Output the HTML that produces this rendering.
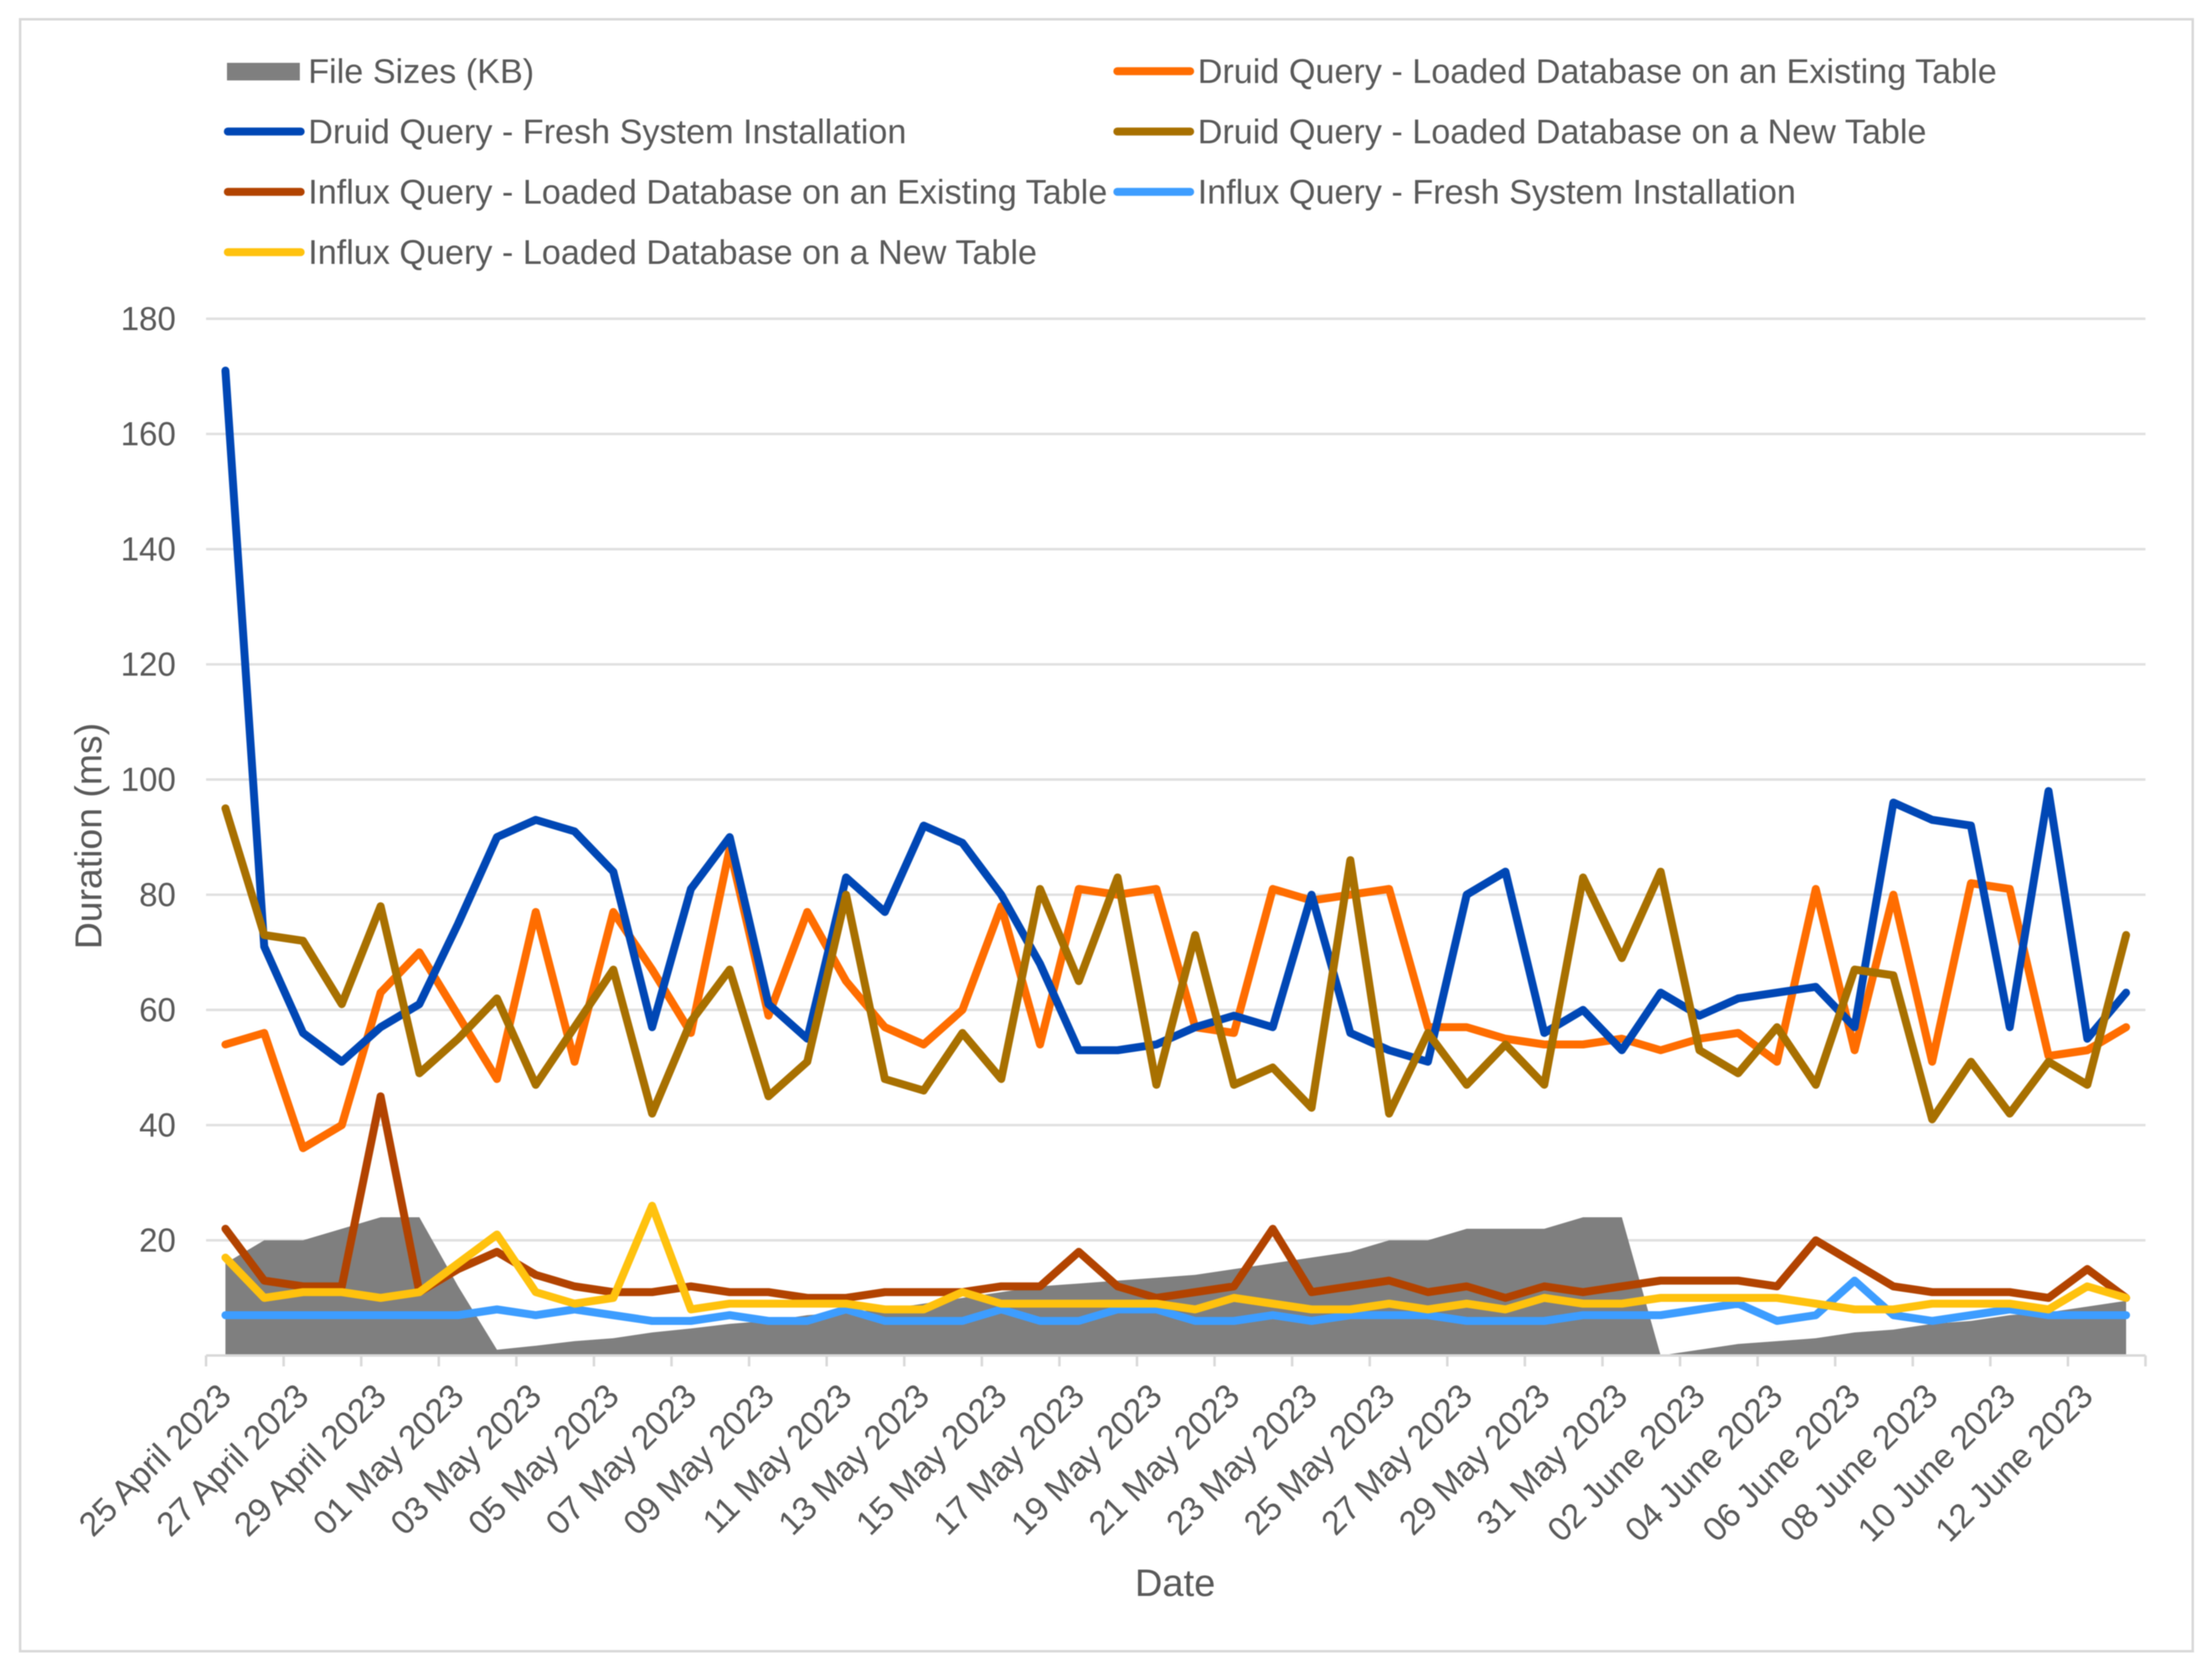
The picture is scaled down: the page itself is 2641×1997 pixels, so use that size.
<!DOCTYPE html>
<html lang="en">
<head>
<meta charset="utf-8">
<title>Query duration by date</title>
<style>
  html, body { margin: 0; padding: 0; background: #ffffff; }
  svg { display: block; font-family: "Liberation Sans", Arial, sans-serif; fill: #595959; filter: blur(0.6px); }
</style>
</head>
<body>
<svg id="chart" xmlns="http://www.w3.org/2000/svg" width="2641" height="1997" viewBox="0 0 2641 1997">
  <rect x="24" y="23" width="2594" height="1948" fill="#ffffff" stroke="#d9d9d9" stroke-width="3"/>
  <g id="grid"></g>
  <g id="area"></g>
  <g id="axes"></g>
  <g id="lines"></g>
  <g id="ylabels" font-size="39.5" text-anchor="end"></g>
  <g id="xlabels" font-size="40.5" text-anchor="end"></g>

  <text font-size="44.6" text-anchor="middle" transform="translate(121 998) rotate(-90)">Duration (ms)</text>
  <text font-size="45.5" text-anchor="middle" x="1403" y="1905">Date</text>

  <g font-size="40.8">
    <g>
      <rect x="271" y="75" width="87" height="21" fill="#7f7f7f"/>
      <text x="368" y="99">File Sizes (KB)</text>
    </g>
    <g>
      <line x1="272" x2="359" y1="157" y2="157" stroke="#0047b5" stroke-width="9.5" stroke-linecap="round"/>
      <text x="368" y="171">Druid Query - Fresh System Installation</text>
    </g>
    <g>
      <line x1="272" x2="359" y1="229" y2="229" stroke="#b24300" stroke-width="9.5" stroke-linecap="round"/>
      <text x="368" y="243">Influx Query - Loaded Database on an Existing Table</text>
    </g>
    <g>
      <line x1="272" x2="359" y1="301" y2="301" stroke="#ffc20e" stroke-width="9.5" stroke-linecap="round"/>
      <text x="368" y="315">Influx Query - Loaded Database on a New Table</text>
    </g>
    <g>
      <line x1="1334" x2="1421" y1="85" y2="85" stroke="#ff6d00" stroke-width="9.5" stroke-linecap="round"/>
      <text x="1430" y="99">Druid Query - Loaded Database on an Existing Table</text>
    </g>
    <g>
      <line x1="1334" x2="1421" y1="157" y2="157" stroke="#a87000" stroke-width="9.5" stroke-linecap="round"/>
      <text x="1430" y="171">Druid Query - Loaded Database on a New Table</text>
    </g>
    <g>
      <line x1="1334" x2="1421" y1="229" y2="229" stroke="#3d9dff" stroke-width="9.5" stroke-linecap="round"/>
      <text x="1430" y="243">Influx Query - Fresh System Installation</text>
    </g>
  </g>
</svg>
<script>
const dateTickLabels = ["25 April 2023","27 April 2023","29 April 2023","01 May 2023","03 May 2023","05 May 2023","07 May 2023","09 May 2023","11 May 2023","13 May 2023","15 May 2023","17 May 2023","19 May 2023","21 May 2023","23 May 2023","25 May 2023","27 May 2023","29 May 2023","31 May 2023","02 June 2023","04 June 2023","06 June 2023","08 June 2023","10 June 2023","12 June 2023"];
const durationTickLabels = [20,40,60,80,100,120,140,160,180];
const fileSizes = [16,20,20,22,24,24,12,1,1.7,2.5,3,4,4.7,5.5,6,7,7.5,8,9,10,11,12,12.5,13,13.5,14,15,16,17,18,20,20,22,22,22,24,24,0,1,2,2.5,3,4,4.5,5.5,6,7,7.5,8.5,9.5];
const druidFresh = [171,71,56,51,57,61,75,90,93,91,84,57,81,90,61,55,83,77,92,89,80,68,53,53,54,57,59,57,80,56,53,51,80,84,56,60,53,63,59,62,63,64,57,96,93,92,57,98,55,63];
const druidExisting = [54,56,36,40,63,70,59,48,77,51,77,67,56,88,59,77,65,57,54,60,78,54,81,80,81,57,56,81,79,80,81,57,57,55,54,54,55,53,55,56,51,81,53,80,51,82,81,52,53,57];
const druidNew = [95,73,72,61,78,49,55,62,47,57,67,42,58,67,45,51,80,48,46,56,48,81,65,83,47,73,47,50,43,86,42,56,47,54,47,83,69,84,53,49,57,47,67,66,41,51,42,51,47,73];
const influxExisting = [22,13,12,12,45,11,15,18,14,12,11,11,12,11,11,10,10,11,11,11,12,12,18,12,10,11,12,22,11,12,13,11,12,10,12,11,12,13,13,13,12,20,16,12,11,11,11,10,15,10];
const influxFresh = [7,7,7,7,7,7,7,8,7,8,7,6,6,7,6,6,8,6,6,6,8,6,6,8,8,6,6,7,6,7,7,7,6,6,6,7,7,7,8,9,6,7,13,7,6,7,8,7,7,7];
const influxNew = [17,10,11,11,10,11,16,21,11,9,10,26,8,9,9,9,9,8,8,11,9,9,9,9,9,8,10,9,8,8,9,8,9,8,10,9,9,10,10,10,10,9,8,8,9,9,9,8,12,10];

const NS = "http://www.w3.org/2000/svg";
const plot = { left: 246, right: 2561.6, zero: 1618, unit: 6.875 };
const pointCount = druidFresh.length;
const band = (plot.right - plot.left) / pointCount;
function xScale(i) { return plot.left + band * (i + 0.5); }
function yScale(v) { return plot.zero - plot.unit * v; }
function make(tag, attrs, parent) {
  const el = document.createElementNS(NS, tag);
  for (const k in attrs) el.setAttribute(k, attrs[k]);
  parent.appendChild(el);
  return el;
}

const gridGroup = document.getElementById("grid");
const yLabelGroup = document.getElementById("ylabels");
durationTickLabels.forEach(function (v) {
  const y = yScale(v);
  const gl = make("line", { x1: plot.left, x2: plot.right, y1: y, y2: y, stroke: "#e0e0e0", "stroke-width": 3 }, gridGroup);
  
  
  const t = make("text", { x: 210, y: y + 13.5 }, yLabelGroup);
  t.textContent = String(v);
  
  
});

const areaGroup = document.getElementById("area");
const areaPoints = fileSizes.map(function (v, i) { return xScale(i) + "," + yScale(v); });
areaPoints.unshift(xScale(0) + "," + (plot.zero - 1.5));
areaPoints.push(xScale(pointCount - 1) + "," + (plot.zero - 1.5));
const areaShape = make("polygon", { points: areaPoints.join(" "), fill: "#7f7f7f" }, areaGroup);



const axisGroup = document.getElementById("axes");
const axisLine = make("line", { x1: plot.left, x2: plot.right, y1: plot.zero, y2: plot.zero, stroke: "#d9d9d9", "stroke-width": 3 }, axisGroup);


for (let i = 0; i <= pointCount; i += 2) {
  const tx = plot.left + band * i;
  const tick = make("line", { x1: tx, x2: tx, y1: plot.zero, y2: plot.zero + 13, stroke: "#d9d9d9", "stroke-width": 3 }, axisGroup);
  
  
}

const xLabelGroup = document.getElementById("xlabels");
dateTickLabels.forEach(function (label, k) {
  const x = xScale(k * 2) + 9;
  const y = 1669;
  const t = make("text", { transform: "translate(" + x + " " + y + ") rotate(-45)" }, xLabelGroup);
  t.textContent = label;
  
  
});

const lineGroup = document.getElementById("lines");
function drawSeries(values, color, name) {
  const pts = values.map(function (v, i) { return xScale(i) + "," + yScale(v); }).join(" ");
  const line = make("polyline", { points: pts, fill: "none", stroke: color, "stroke-width": 9.5, "stroke-linejoin": "round", "stroke-linecap": "round" }, lineGroup);
  
  
}
drawSeries(druidExisting, "#ff6d00", "druid-existing-line");
drawSeries(druidFresh, "#0047b5", "druid-fresh-line");
drawSeries(druidNew, "#a87000", "druid-new-line");
drawSeries(influxExisting, "#b24300", "influx-existing-line");
drawSeries(influxFresh, "#3d9dff", "influx-fresh-line");
drawSeries(influxNew, "#ffc20e", "influx-new-line");
</script>
</body>
</html>
